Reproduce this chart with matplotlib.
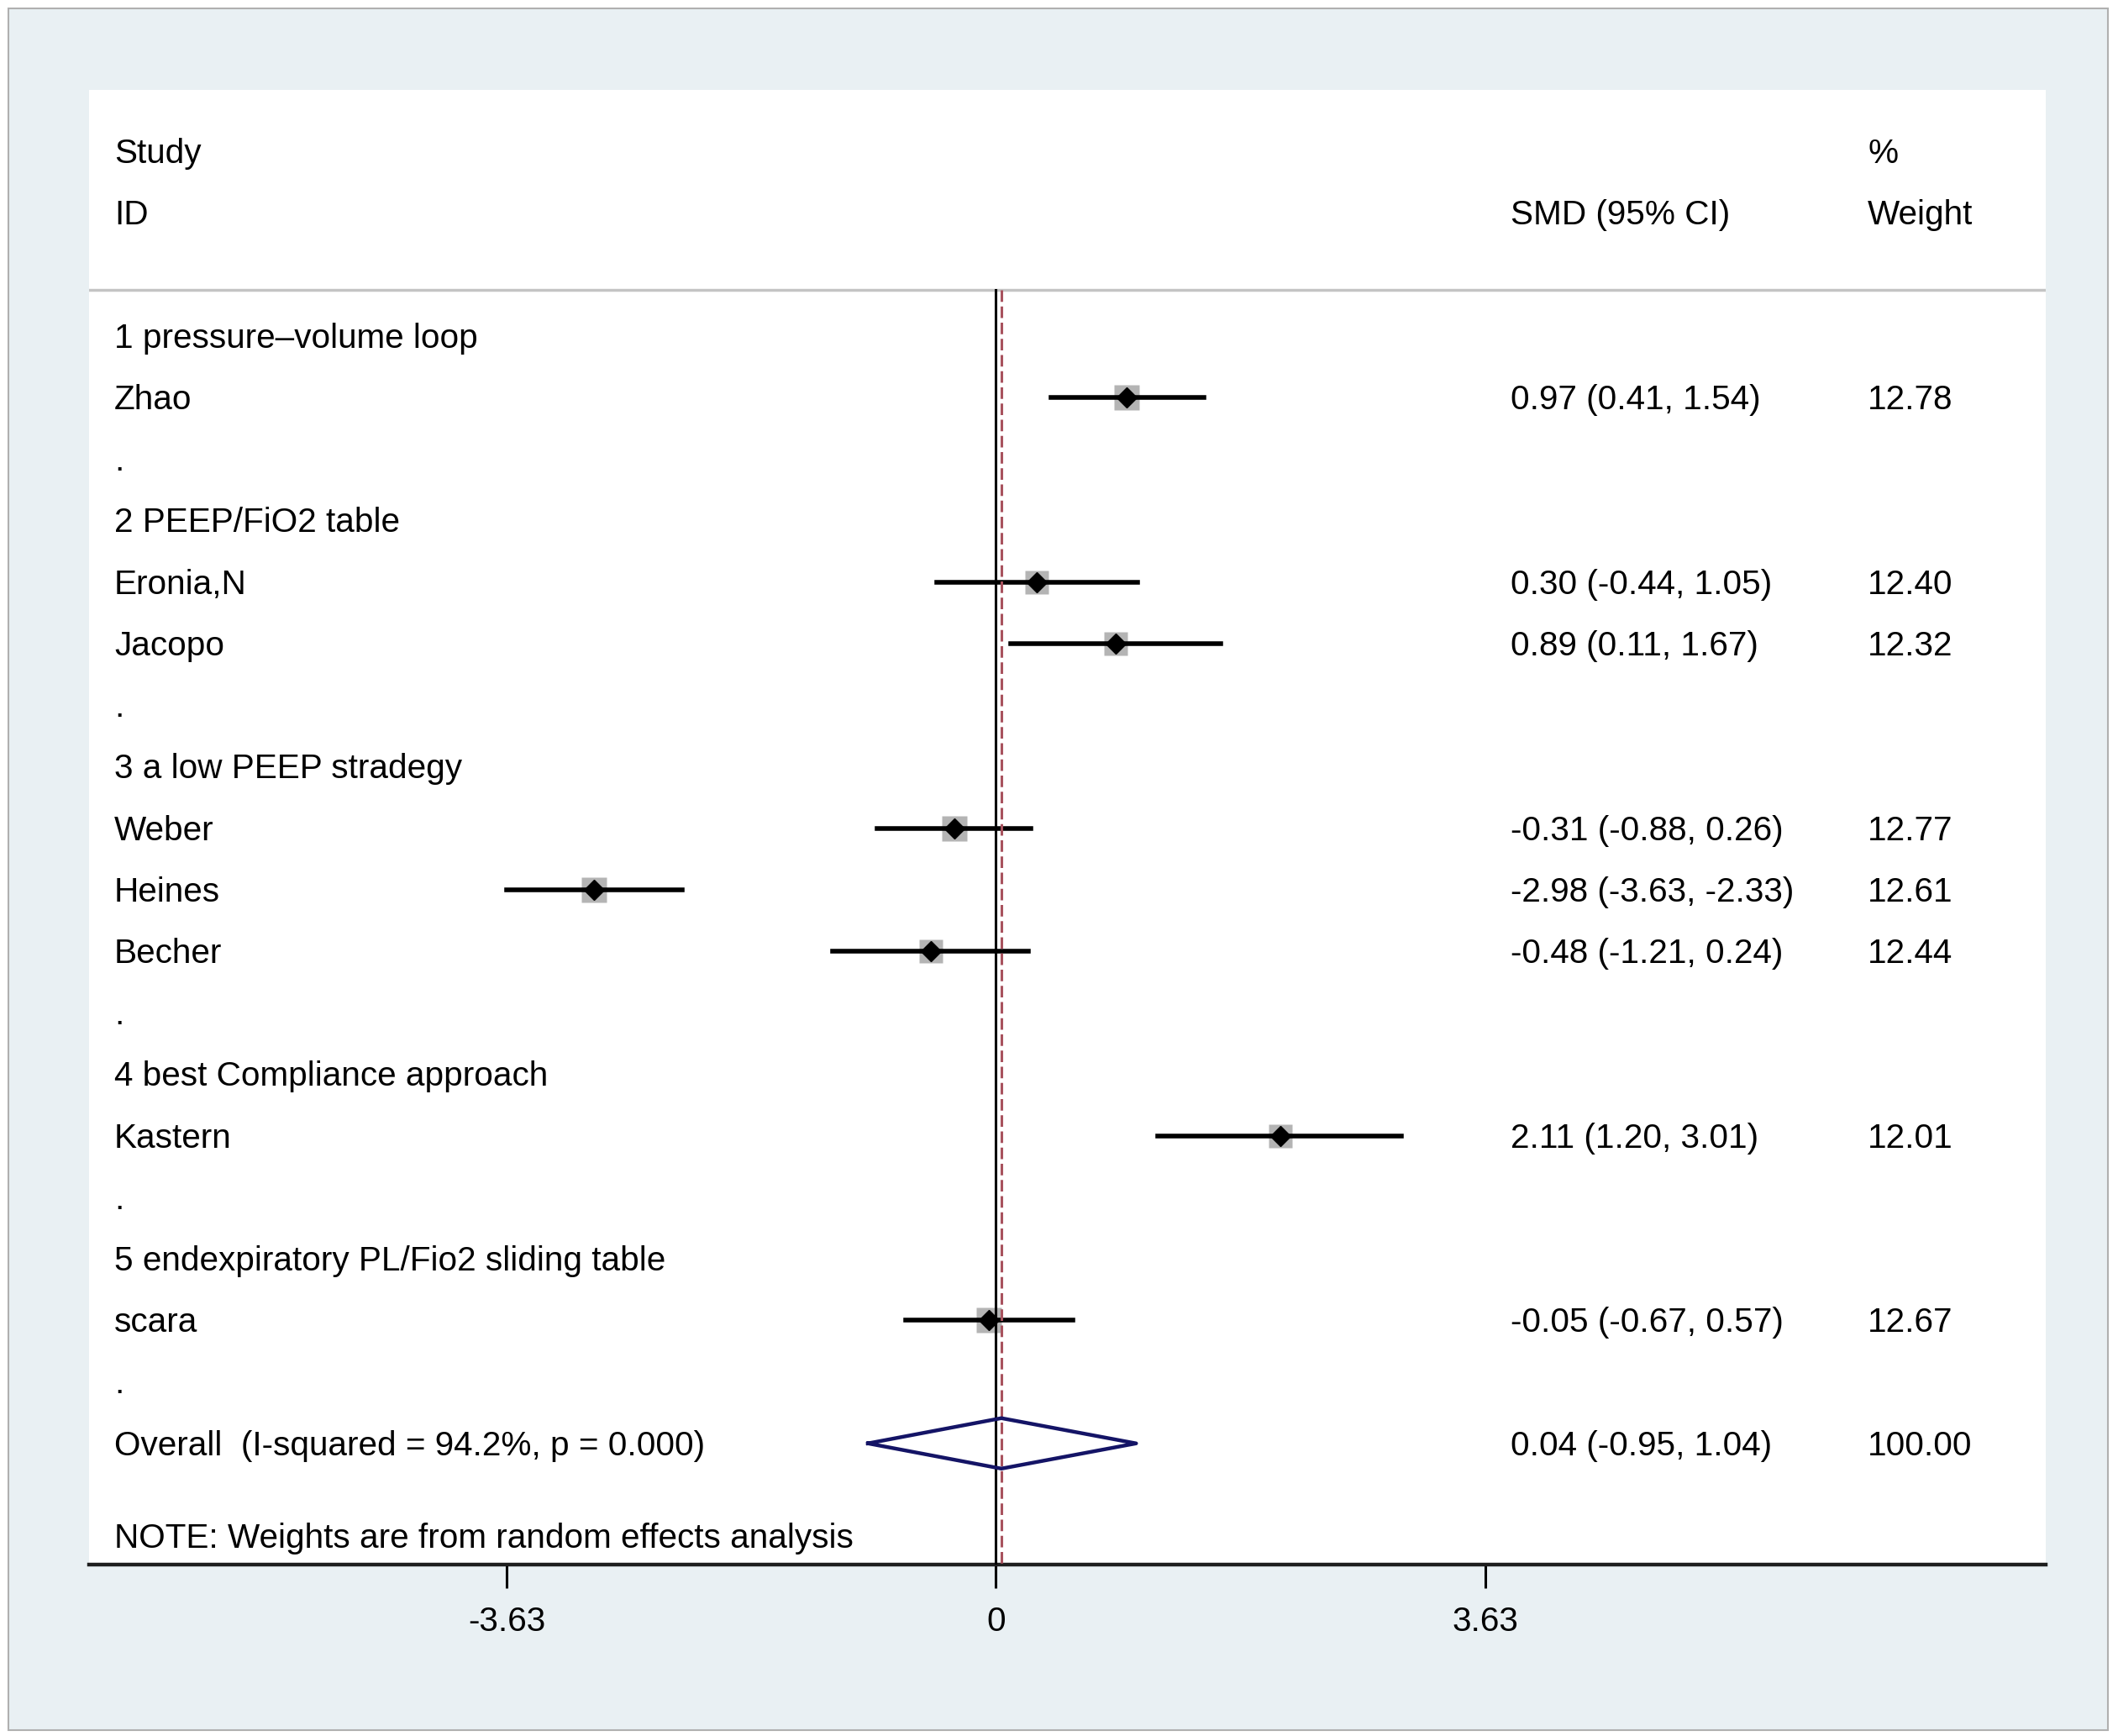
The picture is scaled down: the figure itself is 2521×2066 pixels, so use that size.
import numpy as np
import matplotlib.pyplot as plt
from matplotlib.patches import Rectangle

plt.rcParams['font.family'] = ['Liberation Sans', 'DejaVu Sans']

# rows of the left column (top to bottom, before the overall row)
row_labels = ["1 pressure–volume loop", "Zhao", ".",
              "2 PEEP/FiO2 table", "Eronia,N", "Jacopo", ".",
              "3 a low PEEP stradegy", "Weber", "Heines", "Becher", ".",
              "4 best Compliance approach", "Kastern", ".",
              "5 endexpiratory PL/Fio2 sliding table", "scara", "."]

# studies
studies = ["Zhao", "Eronia,N", "Jacopo", "Weber", "Heines", "Becher", "Kastern", "scara"]
smd = [0.97, 0.30, 0.89, -0.31, -2.98, -0.48, 2.11, -0.05]
ci_lo = [0.41, -0.44, 0.11, -0.88, -3.63, -1.21, 1.20, -0.67]
ci_hi = [1.54, 1.05, 1.67, 0.26, -2.33, 0.24, 3.01, 0.57]
weight = [12.78, 12.40, 12.32, 12.77, 12.61, 12.44, 12.01, 12.67]

overall_label = "Overall  (I-squared = 94.2%, p = 0.000)"
overall = 0.04
overall_lo = -0.95
overall_hi = 1.04

tick_vals = [-3.63, 0, 3.63]
tick_labels = ["-3.63", "0", "3.63"]

fs = 29.2
dy = 0.04  # text sits a touch below the row centre
W, H = 2521, 2066
fig = plt.figure(figsize=(W / 100, H / 100), dpi=100)
fig.patch.set_facecolor('white')

# outer light frame
fig.patches.append(Rectangle((10 / W, 1 - 2059 / H), 2499 / W, 2049 / H,
                             transform=fig.transFigure, facecolor='#e9f0f3',
                             edgecolor='#b0b0b0', lw=1.5, zorder=-5))

ax = fig.add_axes([106 / W, 1 - 1862 / H, (2435 - 106) / W, (1862 - 107) / H])
ax.set_zorder(1)
ax.set_facecolor('white')
ax.set_xlim(-6.73, 7.79)
ax.set_ylim(19.97, -4.0)

for s in ['top', 'left', 'right']:
    ax.spines[s].set_visible(False)
ax.spines['bottom'].set_linewidth(3.2)
ax.spines['bottom'].set_color('#1e1e1e')
ax.set_yticks([])
ax.set_xticks(tick_vals)
ax.set_xticklabels(tick_labels, fontsize=fs)
ax.tick_params(axis='x', length=20, width=2.2, color='black', pad=15)

tr = ax.get_yaxis_transform()
x_lab, x_ci, x_wt = 0.0129, 0.7265, 0.909

# header
ax.text(x_lab, -3 + dy, "Study", transform=tr, fontsize=fs, va='center')
ax.text(x_lab, -2 + dy, "ID", transform=tr, fontsize=fs, va='center')
ax.text(x_ci, -2 + dy, "SMD (95% CI)", transform=tr, fontsize=fs, va='center')
ax.text(x_wt, -3 + dy, "%", transform=tr, fontsize=fs, va='center')
ax.text(x_wt, -2 + dy, "Weight", transform=tr, fontsize=fs, va='center')
ax.axhline(-0.75, color='#c4c4c4', lw=2.5)

# reference lines
ax.plot([0, 0], [-0.75, 19.97], color='black', lw=2.2, zorder=4)
ax.plot([overall, overall], [-0.75, 19.97], color='#a8525e', lw=2.2,
        dashes=(4.5, 1.8), zorder=5)

for i, lab in enumerate(row_labels):
    ax.text(x_lab, i + dy, lab, transform=tr, fontsize=fs, va='center')

ypos = [row_labels.index(s) for s in studies]
for k in range(len(studies)):
    y = ypos[k]
    side = 20.9 * np.sqrt(weight[k] / 12.6)
    ax.plot(smd[k], y, marker='s', ms=side, color='#b4b4b4', mec='none', zorder=2)
    ax.plot([ci_lo[k], ci_hi[k]], [y, y], color='black', lw=4, zorder=3)
    ax.plot(smd[k], y, marker='D', ms=12.5, color='black', zorder=6)
    ax.text(x_ci, y + dy, "%.2f (%.2f, %.2f)" % (smd[k], ci_lo[k], ci_hi[k]),
            transform=tr, fontsize=fs, va='center')
    ax.text(x_wt, y + dy, "%.2f" % weight[k], transform=tr, fontsize=fs, va='center')

# overall diamond
yo = len(row_labels)
ax.plot([overall_lo, overall, overall_hi, overall, overall_lo],
        [yo, yo - 0.41, yo, yo + 0.41, yo], color='#141466', lw=3.2, zorder=7)
ax.text(x_lab, yo + dy, overall_label, transform=tr, fontsize=fs, va='center')
ax.text(x_ci, yo + dy, "%.2f (%.2f, %.2f)" % (overall, overall_lo, overall_hi),
        transform=tr, fontsize=fs, va='center')
ax.text(x_wt, yo + dy, "%.2f" % 100, transform=tr, fontsize=fs, va='center')

ax.text(x_lab, 19.5 + dy, "NOTE: Weights are from random effects analysis",
        transform=tr, fontsize=fs, va='center')

fig.savefig('out.png', dpi=100)
